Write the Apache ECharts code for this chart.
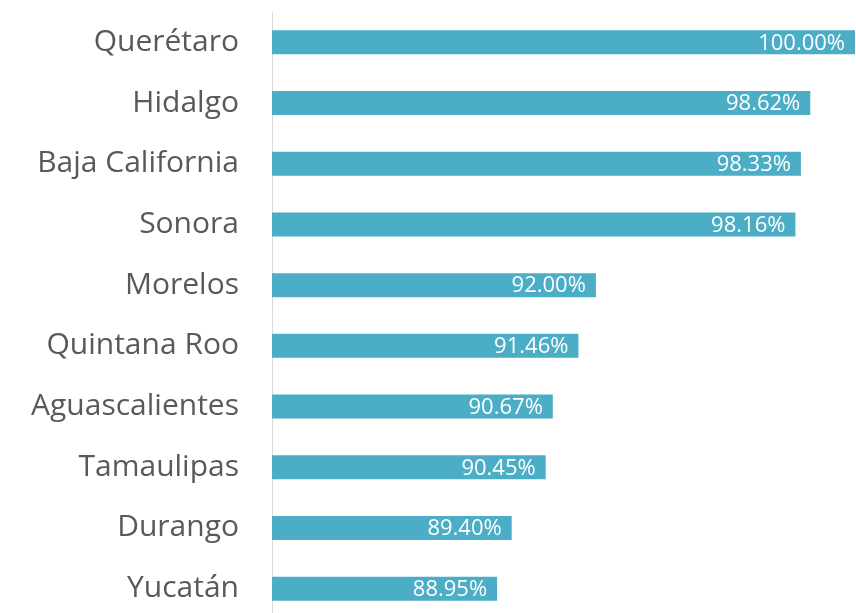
<!DOCTYPE html>
<html>
<head>
<meta charset="utf-8">
<script src="https://cdn.jsdelivr.net/npm/echarts@6/dist/echarts.min.js"></script>
<style>
  html, body { margin: 0; padding: 0; background: #fff; }
  #chart { width: 856px; height: 613px; }
</style>
</head>
<body>
<div id="chart"></div>
<script>
const states = ['Querétaro', 'Hidalgo', 'Baja California', 'Sonora', 'Morelos',
  'Quintana Roo', 'Aguascalientes', 'Tamaulipas', 'Durango', 'Yucatán'];
const coverage = [100.00, 98.62, 98.33, 98.16, 92.00, 91.46, 90.67, 90.45, 89.40, 88.95];

const chart = echarts.init(document.getElementById('chart'));

chart.setOption({
  animation: false,
  grid: { top: 12, height: 607, left: 272, right: 1, outerBoundsMode: 'none' },
  xAxis: {
    type: 'value',
    min: 82,
    max: 100,
    show: false
  },
  yAxis: {
    type: 'category',
    data: states,
    inverse: true,
    axisLine: { lineStyle: { color: '#d9d9d9', width: 1 } },
    axisTick: { show: false },
    axisLabel: {
      color: '#595959',
      fontSize: 30,
      fontFamily: 'Open Sans',
      margin: 33
    }
  },
  series: [{
    type: 'bar',
    data: coverage,
    barWidth: 24,
    itemStyle: { color: '#4BADC6' },
    label: {
      show: true,
      position: 'insideRight',
      distance: 10,
      offset: [0, 1],
      color: '#fff',
      fontSize: 22,
      fontFamily: 'Open Sans',
      formatter: (p) => p.value.toFixed(2) + '%'
    }
  }]
});
</script>
</body>
</html>
